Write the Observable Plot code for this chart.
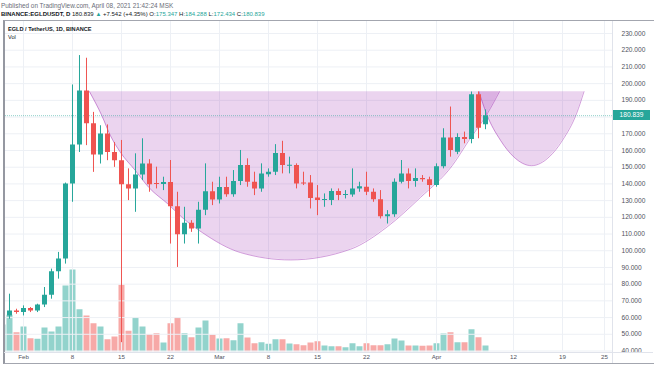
<!DOCTYPE html>
<html><head><meta charset="utf-8">
<script src="https://cdn.jsdelivr.net/npm/d3@7"></script>
<script src="https://cdn.jsdelivr.net/npm/@observablehq/plot@0.6"></script>
<style>
html,body{margin:0;padding:0;background:#fff;}
body{width:654px;height:366px;position:relative;overflow:hidden;font-family:"Liberation Sans",Arial,sans-serif;}
.abs{position:absolute;white-space:nowrap;}
.t{color:#26a69a}
</style></head><body>
<div id="volLayer" class="abs" style="left:0;top:0"></div>
<div id="mainLayer" class="abs" style="left:0;top:0"></div>
<div class="abs" style="left:1px;top:2px;font-size:6.4px;color:#6a6d78;">Published on TradingView.com, April 08, 2021 21:42:24 MSK</div>
<div class="abs" style="left:1px;top:11px;font-size:6px;color:#131722;"><b>BINANCE:EGLDUSDT, D</b> 180.839 <span class="t">▲</span> +7.542 (+4.35%) O:<span class="t">175.347</span> H:<span class="t">184.288</span> L:<span class="t">172.434</span> C:<span class="t">180.839</span></div>
<div class="abs" style="left:3px;top:20px;width:649px;height:342px;border:1px solid #a3a6af;border-left:2px solid #9598a1;"></div>
<div class="abs" style="left:612px;top:21px;width:1px;height:342px;background:#e0e3eb;"></div>
<div class="abs" style="left:4px;top:352px;width:649px;height:1px;background:#e0e3eb;"></div>
<div class="abs" style="left:8px;top:26px;font-size:5.6px;font-weight:bold;color:#131722">EGLD / TetherUS, 1D, BINANCE</div>
<div class="abs" style="left:8px;top:34px;font-size:5.6px;color:#131722">Vol</div>
<div id="lastLbl" class="abs" style="left:613px;width:37px;height:10px;line-height:10px;background:#26a69a;color:#fff;font-size:6.6px;text-align:center;"></div>
<script>
// ---- data ----
const firstDay = "2021-01-29", lastDay = "2021-04-08";
const opens = [60,61,64, 63,65.5,64,67.5,73.3,87.5,95,139.9,163.3,195.6,176,157.3,169.9,158.8,153.9,139.5,136.9,145.3,151.9,140.2,139.6,140.8,126.3,109.5,116.5,113,124.3,135.3,
 130.3,137.9,133.5,141.5,151,141,137,145.5,147,158.2,150.6,151,140.6,140.5,131.5,130,130,135.5,133,133.3,137,138,135,130.5,120.3,121.5,141,146,141.5,143.3,142.5,
 139,150.3,167.5,159,167.8,166.5,193.4,175.347];
const highs = [63,74,65, 67,66,68,78,89,99,140.5,199.2,216.8,215.2,182.8,174.8,175.3,164.8,166,149,158,167,154.5,150,144,154,135,126,118,129,152,141,
 144,144,148,160,155,147,152,149,163.5,165.5,156,152,147,145,139,134,137,137,136,149,141,147,137,136,124,143,154,149,149,145,144,
 152,173,186,170,171,195,195,184.288];
const lows = [58,59,62, 61,63,63,66,71,83,92,129,158.8,162.9,146.9,151.9,153.9,149.9,45,130,123,142,135,137,136,104,90,104,111,104,121,127,
 128,132,132,139,138,133,135,144,145,146,146,137,139,125,121,126,127,130,131,132,135,133,129,119,116,120,140,137,138,141,132,
 138,149,156,157.5,164,164,167,172.434];
const closes = [61.5,64,63, 65.5,64,67.5,73.3,87.5,95,139.9,163.3,195.6,176,157.3,169.9,158.8,153.9,139.5,136.9,145.3,151.9,139.5,139.6,140.8,126.3,109.5,116.5,113,124.3,135.3,130.3,
 137.9,133.5,141.5,151,141,137,146,147,158.2,151,151.2,140,140,131.3,130,130.6,135.5,133,133.6,137,138.3,135,130.5,120.3,121.5,141,146,141.5,143.3,142.5,139,
 150.3,167.5,160,167.8,166.5,193.4,173.297,180.839];
const volumes = [540,734,386, 500,266,254,480,400,500,1320,1640,846,720,566,500,246,300,1334,414,680,500,346,366,180,566,686,366,286,480,620,334,
 260,266,226,566,280,166,186,154,246,246,160,146,126,180,206,120,106,106,86,166,106,166,126,126,146,260,220,120,120,114,120,
 166,360,386,186,186,446,286,120];
const lastClose = 180.839;

// cup & handle drawing (days after Feb 1, price)
const cupTopPrice = 195.2;
const bigCupDays   = [9.43,11.2,12.43,13.86,16,17.9,20.76,22.67,25.53,31,38.14,46.71,51.96,56.71,61.24,63.61,66.24,68];
const bigCupPrices = [195.2,180.8,168.8,158.8,147.9,137.9,127.5,119.9,110.9,98.9,94.5,100.9,114.3,131.9,150.9,165.9,181.9,195.2];
const handleDays   = [65.07,66.14,68.14,70,72.57,75.14,77,79,80.07];
const handlePrices = [195.2,182,166.1,156.3,150.9,156.3,166.1,182,195.2];

const priceTicks = d3.range(40, 231, 10);
const priceLabelTicks = priceTicks.filter(v => v !== 180); // 180 hidden under last-price tag
const timeTicks = ["2021-02-01","2021-02-08","2021-02-15","2021-02-22","2021-03-01","2021-03-08","2021-03-15","2021-03-22","2021-04-01","2021-04-12","2021-04-19","2021-04-25"];
const timeLabels = ["Feb","8","15","22","Mar","8","15","22","Apr","12","19","25"];

// ---- build ----
const days = d3.utcDay.range(new Date(firstDay), d3.utcDay.offset(new Date(lastDay), 1));
const candles = days.map((d, i) => ({date: d, open: opens[i], high: highs[i], low: lows[i], close: closes[i], volume: volumes[i]}));
const feb1 = new Date("2021-02-01");
const toDate = d => new Date(+feb1 + d * 864e5);
const bigCup = bigCupDays.map((d, i) => ({date: toDate(d), price: bigCupPrices[i]}));
const handle = handleDays.map((d, i) => ({date: toDate(d), price: handlePrices[i]}));
const tickDates = timeTicks.map(s => new Date(s));
const labelMap = new Map(tickDates.map((d, i) => [+d, timeLabels[i]]));
const xDomain = [new Date("2021-01-29T03:26:00Z"), new Date("2021-04-26T03:26:00Z")];
const UP = "#26a69a", DOWN = "#ef5350";
const col = d => d.close >= d.open ? UP : DOWN;
const font = "'Liberation Sans', Arial, sans-serif";

const vol = Plot.plot({
  width: 654, height: 366,
  marginLeft: 3, marginRight: 42, marginTop: 21, marginBottom: 14.5,
  style: {background: "transparent", fontFamily: font, fontSize: "6.2px", color: "#50535e", overflow: "hidden"},
  x: {type: "utc", domain: xDomain, ticks: tickDates, tickFormat: d => labelMap.get(+d), tickSize: 0, tickPadding: 2.5, label: null},
  y: {domain: [0, 6610], axis: null},
  marks: [
    Plot.ruleX(candles, {x: "date", y1: 0, y2: "volume", stroke: d => d.close >= d.open ? "#92d3cc" : "#f7a9a7", strokeWidth: 6, clip: true})
  ]
});
document.getElementById("volLayer").append(vol);

const main = Plot.plot({
  width: 654, height: 352,
  marginLeft: 3, marginRight: 42, marginTop: 21, marginBottom: 1.5,
  style: {background: "transparent", fontFamily: font, fontSize: "6.6px", color: "#50535e", overflow: "hidden"},
  x: {type: "utc", domain: xDomain, axis: null},
  y: {domain: [40, 237.19], axis: "right", ticks: priceLabelTicks, tickFormat: d => d.toFixed(3), tickSize: 0, tickPadding: 9, label: null},
  marks: [
    Plot.ruleY(priceTicks, {stroke: "#edf0f5"}),
    Plot.ruleX(tickDates, {stroke: "#edf0f5"}),
    Plot.areaY(bigCup, {x: "date", y1: "price", y2: () => cupTopPrice, curve: "monotone-x", fill: "#9c27b0", fillOpacity: 0.2}),
    Plot.line(bigCup, {x: "date", y: "price", curve: "monotone-x", stroke: "#9c27b0", strokeOpacity: 0.45, strokeWidth: 1}),
    Plot.areaY(handle, {x: "date", y1: "price", y2: () => cupTopPrice, curve: "monotone-x", fill: "#9c27b0", fillOpacity: 0.2}),
    Plot.line(handle, {x: "date", y: "price", curve: "monotone-x", stroke: "#9c27b0", strokeOpacity: 0.45, strokeWidth: 1}),
    Plot.ruleY([lastClose], {stroke: UP, strokeDasharray: "1,1", strokeOpacity: 0.5}),
    Plot.ruleX(candles, {x: "date", y1: "low", y2: "high", stroke: col, strokeWidth: 1, clip: true}),
    Plot.ruleX(candles, {x: "date", y1: "open", y2: "close", stroke: col, strokeWidth: 5, clip: true})
  ]
});
document.getElementById("mainLayer").append(main);

const lbl = document.getElementById("lastLbl");
lbl.textContent = lastClose.toFixed(3);
lbl.style.top = (main.scale("y").apply(lastClose) - 5) + "px";
</script>
</body></html>
